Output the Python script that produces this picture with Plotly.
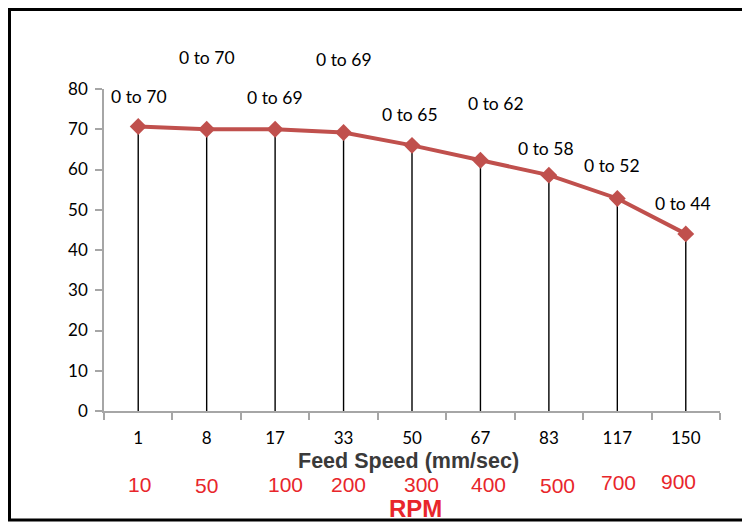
import plotly.graph_objects as go

# ---- data ----
feed_speed = ["1", "8", "17", "33", "50", "67", "83", "117", "150"]
max_value = [70.7, 70.0, 70.0, 69.2, 66.0, 62.3, 58.6, 52.8, 44.0]
range_labels = ["0 to 70", "0 to 70", "0 to 69", "0 to 69", "0 to 65",
                "0 to 62", "0 to 58", "0 to 52", "0 to 44"]
rpm_labels = ["10", "50", "100", "200", "300", "400", "500", "700", "900"]
y_ticks = [0, 10, 20, 30, 40, 50, 60, 70, 80]

# ---- style / placement (pixels) ----
label_shift = [(1, 30), (0, 72), (0, 32), (0, 73), (-2, 31),
               (16, 57), (-3, 27), (-5, 33), (-3, 30)]
rpm_shift = [(1, -73), (0, -74), (10, -73), (5, -73), (9, -73),
             (8, -73), (9, -74), (1, -71), (-7, -70)]

LINE_RED = "#C0504D"
RPM_RED = "#E8262B"
AXIS_GRAY = "#A6A6A6"

# the page adds an 8 px body margin, so the figure is drawn 8 px smaller
OFF = 8
PL, PT, PR, PB = 104, 89, 720, 411  # plot area in window pixels
PW, PH = PR - PL, PB - PT

def px(xw):
    return (xw - PL) / PW

def py(yw):
    return (PB - yw) / PH

fig = go.Figure()

fig.add_trace(go.Scatter(
    x=feed_speed, y=max_value,
    mode="lines+markers",
    line=dict(color=LINE_RED, width=4),
    marker=dict(symbol="diamond", size=13, color=LINE_RED),
    error_y=dict(type="data", symmetric=False,
                 array=[0] * len(max_value), arrayminus=max_value,
                 color="black", thickness=1.4, width=0),
    showlegend=False, hoverinfo="x+y",
))

annotations = []
for i, (val, txt, (dx, dy)) in enumerate(zip(max_value, range_labels, label_shift)):
    annotations.append(dict(
        x=i, y=val, xref="x", yref="y", text=txt, showarrow=False,
        xshift=dx, yshift=dy, xanchor="center", yanchor="middle",
        font=dict(family="Lato", size=17.5, color="black"),
    ))

for i, (txt, (dx, dy)) in enumerate(zip(rpm_labels, rpm_shift)):
    annotations.append(dict(
        x=i, y=0, xref="x", yref="y", text=txt, showarrow=False,
        xshift=dx, yshift=dy, xanchor="center", yanchor="middle",
        font=dict(family="Liberation Sans", size=21, color=RPM_RED),
    ))

annotations.append(dict(
    x=px(408), y=py(460.5), xref="paper", yref="paper",
    text="<b>Feed Speed (mm/sec)</b>", showarrow=False,
    xanchor="center", yanchor="middle",
    font=dict(family="Liberation Sans", size=21.5, color="#3A3A3A"),
))
annotations.append(dict(
    x=px(416), y=py(508), xref="paper", yref="paper",
    text="<b>RPM</b>", showarrow=False,
    xanchor="center", yanchor="middle",
    font=dict(family="Liberation Sans", size=24, color=RPM_RED),
))

fig.update_layout(
    width=750 - OFF, height=523 - OFF,
    margin=dict(l=PL - OFF, r=750 - PR, t=PT - OFF, b=523 - PB),
    paper_bgcolor="white", plot_bgcolor="white",
    annotations=annotations,
    shapes=[dict(
        type="rect", xref="paper", yref="paper",
        x0=px(9.5), x1=px(747),
        y0=py(520), y1=py(9.5),
        line=dict(color="black", width=3), fillcolor="rgba(0,0,0,0)",
        layer="above",
    )],
)

fig.update_xaxes(
    type="category", categoryorder="array", categoryarray=feed_speed,
    range=[-0.5, len(feed_speed) - 0.5], autorange=False,
    showline=True, linecolor=AXIS_GRAY, linewidth=1.5,
    ticks="outside", tickson="boundaries", ticklen=7, tickcolor=AXIS_GRAY,
    tickwidth=1.5, showgrid=False, zeroline=False,
    tickfont=dict(family="Lato", size=17, color="black"),
    ticklabelstandoff=11,
)
fig.update_yaxes(
    range=[0, 80], autorange=False, tickvals=y_ticks,
    showline=True, linecolor=AXIS_GRAY, linewidth=1.5,
    ticks="outside", ticklen=7, tickcolor=AXIS_GRAY, tickwidth=1.5,
    showgrid=False, zeroline=False,
    tickfont=dict(family="Lato", size=17, color="black"),
    ticklabelstandoff=4,
)

fig.write_html("out.html")
